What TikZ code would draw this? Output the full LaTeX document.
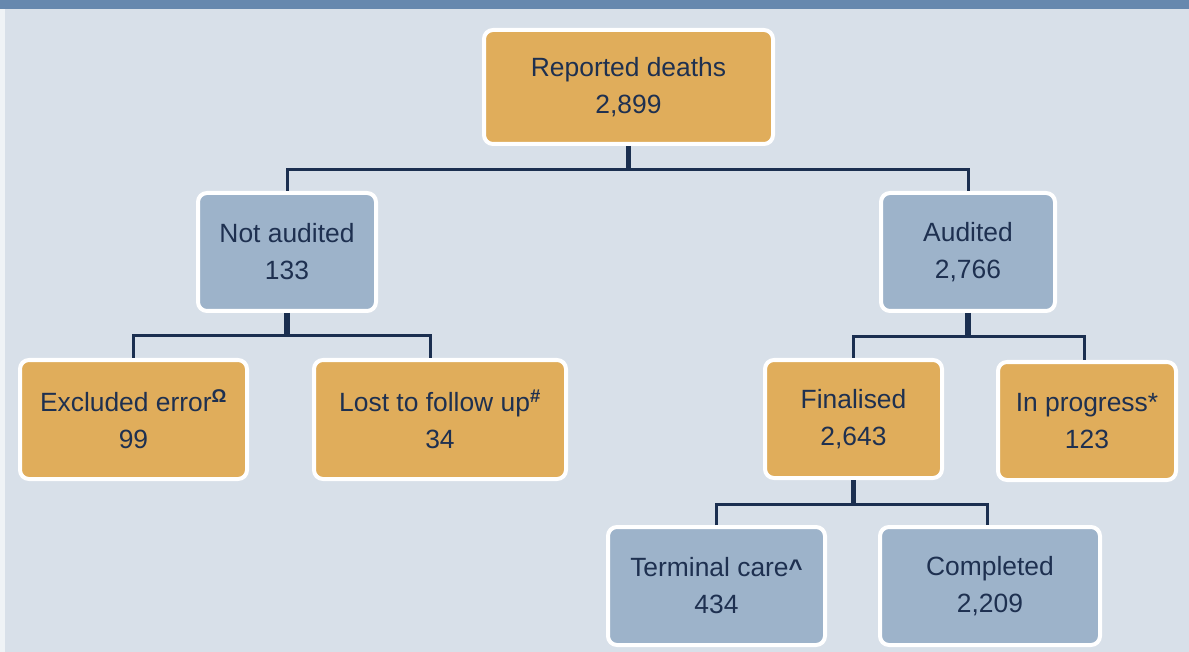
\documentclass[tikz,border=0pt]{standalone}
\usepackage{fontspec}
\setmainfont{Liberation Sans}
\definecolor{bgc}{HTML}{D8E0E9}
\definecolor{bandc}{HTML}{6688AE}
\definecolor{orangec}{HTML}{E0AD5B}
\definecolor{bluec}{HTML}{9DB3CA}
\definecolor{textc}{HTML}{1E3050}
\definecolor{linec}{HTML}{1B2F50}
\begin{document}
\begin{tikzpicture}[x=1pt,y=-1pt,
  box/.style={draw=white,line width=4pt,rounded corners=9pt,align=center,inner sep=0pt,
    text=textc,font=\fontsize{26.4}{37}\selectfont,minimum height=118pt},
  obox/.style={box,fill=orangec},
  bbox/.style={box,fill=bluec},
  conn/.style={draw=linec,line width=3pt},
  stem/.style={draw=linec,line width=5.5pt}]
\useasboundingbox (0,0) rectangle (1189,652);
\fill[bgc] (0,0) rectangle (1189,652);
\fill[white!60!bgc] (0,9) rectangle (5,652);
\fill[bandc] (0,0) rectangle (1189,9);

\node[obox,minimum width=289pt,minimum height=114pt] (root) at (628.5,87) {Reported deaths\\2,899};
\node[bbox,minimum width=178pt] (na) at (287,252) {Not audited\\133};
\node[bbox,minimum width=174pt] (au) at (968,252) {Audited\\2,766};
\node[obox,minimum width=227pt,minimum height=119pt] (ex) at (133.5,419.5) {Excluded error\textsuperscript{\bfseries Ω}\\99};
\node[obox,minimum width=252pt,minimum height=119pt] (lost) at (440,419.5) {Lost to follow up\textsuperscript{\bfseries\#}\\34};
\node[obox,minimum width=177pt,minimum height=118pt] (fin) at (853.5,419) {Finalised\\2,643};
\node[obox,minimum width=178pt,minimum height=118pt] (prog) at (1087,421) {In progress*\\123};
\node[bbox,minimum width=217pt,minimum height=118pt] (term) at (716.5,586) {Terminal care{\bfseries\fontsize{24}{24}\selectfont\char`\^}\\434};
\node[bbox,minimum width=220pt,minimum height=118pt] (comp) at (990,586) {Completed\\2,209};

\path (root.south) ++(0,24) coordinate (bus1);
\path (na.south) ++(0,23) coordinate (bus2);
\path (au.south) ++(0,24) coordinate (bus3);
\path (fin.south) ++(0,24) coordinate (bus4);

\draw[stem] (root.south) -- (bus1);
\draw[conn] (na.north) |- (bus1) -| (au.north);
\draw[stem] (na.south) -- (bus2);
\draw[conn] (ex.north) |- (bus2) -| ([xshift=-10pt]lost.north);
\draw[stem] (au.south) -- (bus3);
\draw[conn] (fin.north) |- (bus3) -| ([xshift=-3pt]prog.north);
\draw[stem] (fin.south) -- (bus4);
\draw[conn] (term.north) |- (bus4) -| ([xshift=-3pt]comp.north);
\end{tikzpicture}
\end{document}
